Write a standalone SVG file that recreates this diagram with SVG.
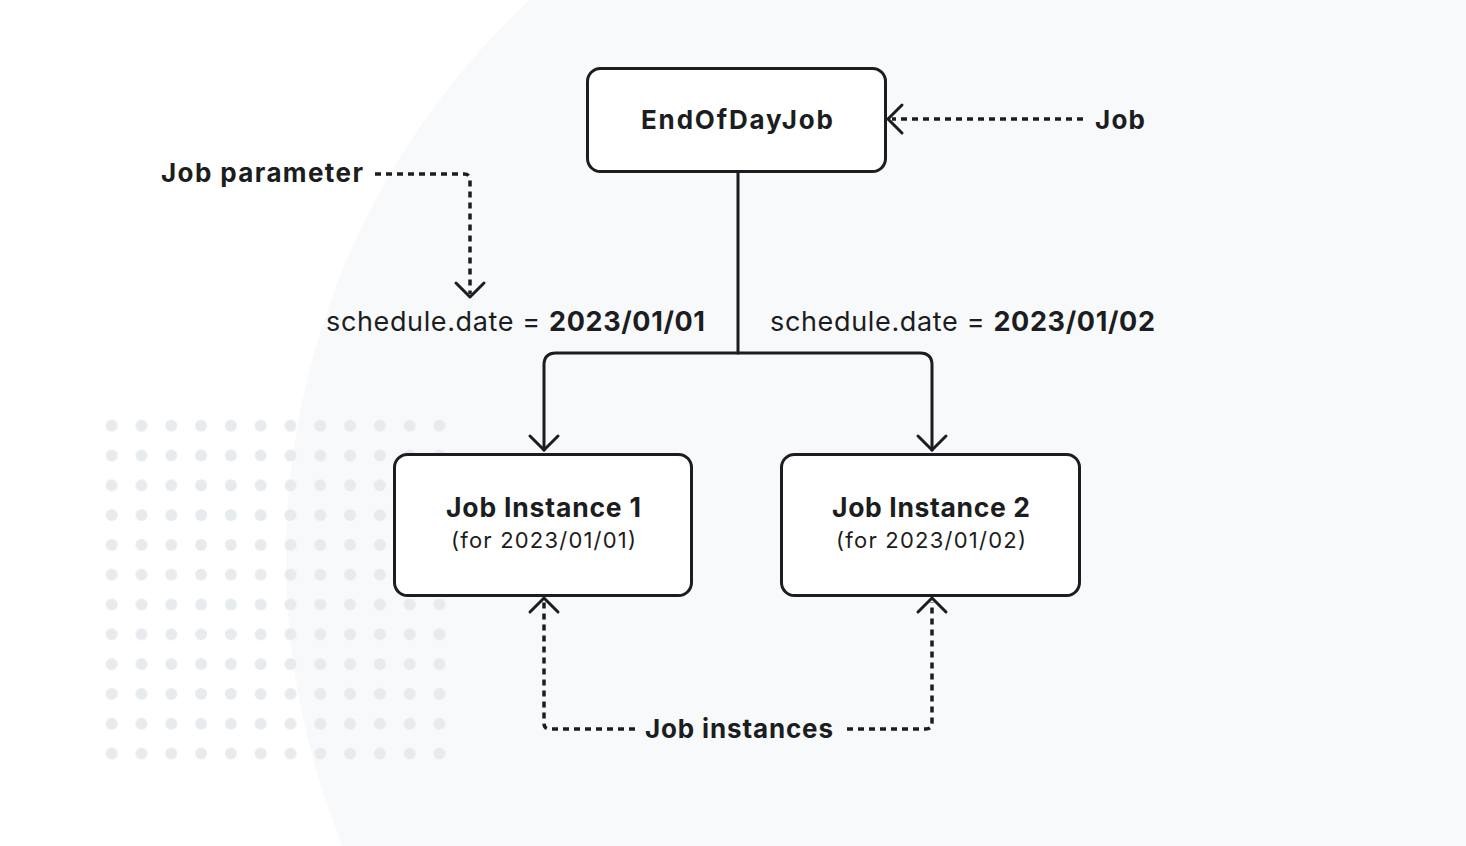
<svg xmlns="http://www.w3.org/2000/svg" width="1466" height="846" viewBox="0 0 1466 846">
  <style>
    .box { fill: #ffffff; stroke: #1b1d20; stroke-width: 3; }
    .line { fill: none; stroke: #1b1d20; stroke-width: 3; stroke-linecap: round; stroke-linejoin: round; }
    .dot { fill: none; stroke: #1b1d20; stroke-width: 3.5; stroke-dasharray: 6 5; }
    .head { fill: none; stroke: #1b1d20; stroke-width: 3; stroke-linecap: round; stroke-linejoin: round; }
    text { font-family: Inter, "Open Sans", "Liberation Sans", sans-serif; fill: #1b1d20; }
    .b { font-weight: 700; }
    .r { font-weight: 400; }
  </style>
  <defs>
    <pattern id="dots" x="96.8" y="410.8" width="29.8" height="29.8" patternUnits="userSpaceOnUse">
      <circle cx="14.9" cy="14.9" r="6" fill="#e8ebee"/>
    </pattern>
  </defs>
  <rect x="0" y="0" width="1466" height="846" fill="#ffffff"/>
  <circle cx="1047" cy="558" r="761" fill="#f8f9fb"/>
  <rect x="96.8" y="410.8" width="357.6" height="357.6" fill="url(#dots)"/>

  <g id="connectors">
    <path class="line" d="M738 172 V353"/>
    <path class="line" d="M544 450 V365 Q544 353 556 353 H920 Q932 353 932 365 V450"/>
    <path class="head" d="M530 436 L544 450 L558 436"/>
    <path class="head" d="M918 436 L932 450 L946 436"/>
    <path class="dot" d="M1083 119 H892"/>
    <path class="head" d="M902 105 L888 119 L902 133"/>
    <path class="dot" d="M375 174 H464 Q470 174 470 180 V294"/>
    <path class="head" d="M456 283 L470 297 L484 283"/>
    <path class="dot" d="M635 729 H550 Q544 729 544 723 V602"/>
    <path class="head" d="M530 612 L544 598 L558 612"/>
    <path class="dot" d="M847 729 H926 Q932 729 932 723 V602"/>
    <path class="head" d="M918 612 L932 598 L946 612"/>
  </g>

  <g id="node-endofdayjob">
    <rect class="box" x="587.5" y="68.5" width="298" height="103" rx="13"/>
    <text class="b" x="641" y="129" font-size="26" textLength="192">EndOfDayJob</text>
  </g>
  <g id="node-instance1">
    <rect class="box" x="394.5" y="454.5" width="297" height="141" rx="13"/>
    <text class="b" x="446" y="517" font-size="26.5" textLength="195">Job Instance 1</text>
    <text class="r" x="451" y="548" font-size="22" textLength="185">(for 2023/01/01)</text>
  </g>
  <g id="node-instance2">
    <rect class="box" x="781.5" y="454.5" width="298" height="141" rx="13"/>
    <text class="b" x="832" y="517" font-size="26.5" textLength="198">Job Instance 2</text>
    <text class="r" x="836" y="548" font-size="22" textLength="190">(for 2023/01/02)</text>
  </g>

  <g id="labels">
    <text class="b" x="1095" y="129" font-size="26" textLength="50">Job</text>
    <text class="b" x="161" y="182" font-size="26" textLength="202">Job parameter</text>
    <text x="326" y="331" font-size="27" textLength="379"><tspan class="r">schedule.date = </tspan><tspan class="b">2023/01/01</tspan></text>
    <text x="770" y="331" font-size="27" textLength="385"><tspan class="r">schedule.date = </tspan><tspan class="b">2023/01/02</tspan></text>
    <text class="b" x="645" y="738" font-size="26" textLength="188">Job instances</text>
  </g>
</svg>
